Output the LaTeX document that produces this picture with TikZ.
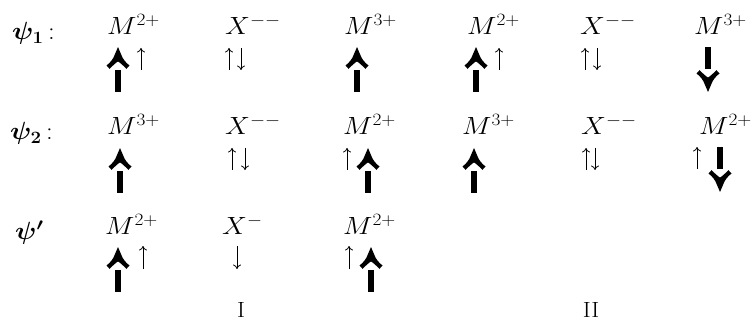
\documentclass[tikz,border=0pt]{standalone}
\usepackage{amsmath,bm}
\usetikzlibrary{arrows.meta}
\begin{document}
\begin{tikzpicture}[x=1pt,y=-1pt,
  lab/.style={font=\fontsize{26}{30}\selectfont, anchor=base west, inner sep=0pt, xscale=1.12},
  psilab/.style={font=\fontsize{27}{30}\selectfont, anchor=base west, inner sep=0pt, xscale=1.08},
  roman/.style={font=\fontsize{22}{26}\selectfont, anchor=base, inner sep=0pt, xscale=1.1},
  sm/.style={line width=0.8pt, -{Computer Modern Rightarrow[length=4.5pt,width=8pt,line width=0.8pt]}},
  bigup/.pic={
    \fill (0,0) -- (3.2,7.5) .. controls (4.5,11.5) and (7.5,15.5) .. (11.5,18.5) -- (8.5,21.8)
       .. controls (5,18.5) and (2,15.5) .. (0,14.5)
       .. controls (-2,15.5) and (-5,18.5) .. (-8.5,21.8) -- (-11.5,18.5)
       .. controls (-7.5,15.5) and (-4.5,11.5) .. (-3.2,7.5) -- cycle;
    \fill (-2.8,23) rectangle (2.8,45);
  }]
\useasboundingbox (0,0) rectangle (754,320);

% row labels
\node[psilab] (p1) at (12,40) {$\bm{\psi_1}\,\mathbf{:}$};
\node[psilab] (p2) at (10,140) {$\bm{\psi_2}\,\mathbf{:}$};
\node[psilab] (p3) at (15,240) {$\bm{\psi'}$};

% row 1
\node[lab] (a1) at (107,35) {$M^{2+}$};
\node[lab] (a2) at (225,35) {$X^{--}$};
\node[lab] (a3) at (344,35) {$M^{3+}$};
\node[lab] (a4) at (467,35) {$M^{2+}$};
\node[lab] (a5) at (580,35) {$X^{--}$};
\node[lab] (a6) at (694,35) {$M^{3+}$};
\pic at (118,47) {bigup};
\draw[sm] (141,70) -- (141,48);
\draw[sm] (229,70) -- (229,48);
\draw[sm] (241,48) -- (241,70);
\pic at (357,47) {bigup};
\pic at (476,47) {bigup};
\draw[sm] (499,70) -- (499,48);
\draw[sm] (585,70) -- (585,48);
\draw[sm] (597,48) -- (597,70);
\pic[yscale=-1] at (708,92) {bigup};

% row 2
\node[lab] (b1) at (107,135) {$M^{3+}$};
\node[lab] (b2) at (225,135) {$X^{--}$};
\node[lab] (b3) at (343,135) {$M^{2+}$};
\node[lab] (b4) at (462,135) {$M^{3+}$};
\node[lab] (b5) at (581,135) {$X^{--}$};
\node[lab] (b6) at (699,135) {$M^{2+}$};
\pic at (120,148) {bigup};
\draw[sm] (232,170) -- (232,148);
\draw[sm] (245,148) -- (245,170);
\draw[sm] (347,170) -- (347,148);
\pic at (368,148) {bigup};
\pic at (474,148) {bigup};
\draw[sm] (586,170) -- (586,148);
\draw[sm] (595,148) -- (595,170);
\draw[sm] (697,169) -- (697,147);
\pic[yscale=-1] at (720,192) {bigup};

% row 3
\node[lab] (c1) at (105,235) {$M^{2+}$};
\node[lab] (c2) at (222,235) {$X^{-}$};
\node[lab] (c3) at (343,235) {$M^{2+}$};
\pic at (118,247) {bigup};
\draw[sm] (143,269) -- (143,246);
\draw[sm] (237,246) -- (237,269);
\draw[sm] (349,269) -- (349,246);
\pic at (371,247) {bigup};

% column group labels
\node[roman] (r1) at (241,317) {I};
\node[roman] (r2) at (591,317) {II};
\end{tikzpicture}
\end{document}
